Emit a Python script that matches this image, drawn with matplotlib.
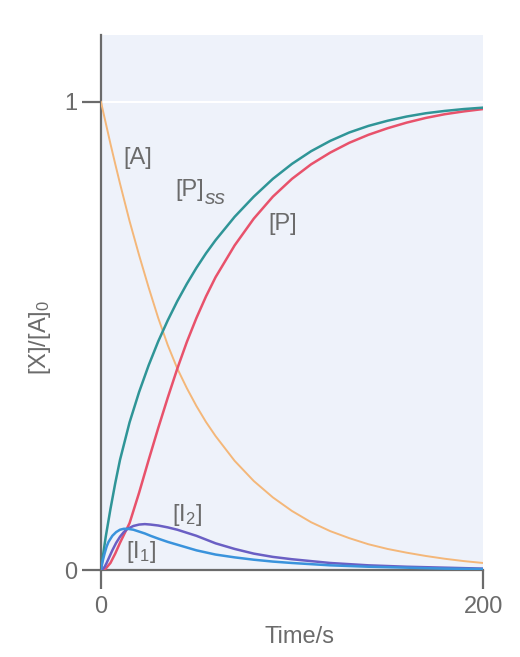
import numpy as np
import matplotlib
matplotlib.use("Agg")
import matplotlib.pyplot as plt

plt.rcParams['font.family'] = ['Liberation Sans', 'DejaVu Sans']
plt.rcParams['mathtext.fontset'] = 'custom'
plt.rcParams['mathtext.rm'] = 'Liberation Sans'
plt.rcParams['mathtext.it'] = 'Liberation Sans:italic'

# values
t = [0, 2.5, 5, 7.5, 10, 15, 20, 25, 30, 35, 40, 45, 50, 55, 60,
     70, 80, 90, 100, 110, 120, 130, 140, 150, 160, 170, 180, 190, 200]
A = [1.0, 0.955, 0.91, 0.867, 0.825, 0.745, 0.672, 0.603, 0.538, 0.48, 0.43, 0.388, 0.35, 0.316, 0.286,
     0.233, 0.19, 0.155, 0.126, 0.102, 0.083, 0.068, 0.055, 0.045, 0.037, 0.03, 0.024, 0.019, 0.015]
P_ss = [0.0, 0.07, 0.13, 0.185, 0.235, 0.315, 0.38, 0.437, 0.488, 0.533, 0.574, 0.611, 0.645, 0.676, 0.704,
        0.754, 0.797, 0.835, 0.867, 0.894, 0.916, 0.934, 0.948, 0.959, 0.968, 0.975, 0.98, 0.984, 0.987]
P = [0.0, 0.003, 0.015, 0.035, 0.058, 0.10, 0.165, 0.235, 0.303, 0.368, 0.43, 0.487, 0.538, 0.584, 0.625,
     0.693, 0.75, 0.797, 0.835, 0.866, 0.891, 0.912, 0.929, 0.943, 0.955, 0.965, 0.973, 0.979, 0.984]

t_i = [0, 1, 2, 3, 4, 6, 8, 10, 12, 14, 17, 20, 23, 26, 30, 35, 40, 50, 60,
       70, 80, 90, 100, 120, 140, 160, 180, 200]
I1 = [0.0, 0.02, 0.036, 0.05, 0.06, 0.073, 0.081, 0.086, 0.088, 0.088, 0.086, 0.082, 0.078, 0.073,
      0.067, 0.06, 0.054, 0.042, 0.033, 0.027, 0.022, 0.018, 0.015, 0.01, 0.007, 0.005, 0.003, 0.002]
I2 = [0.0, 0.002, 0.007, 0.015, 0.024, 0.042, 0.058, 0.071, 0.081, 0.088, 0.094, 0.097, 0.098, 0.097,
      0.095, 0.091, 0.086, 0.073, 0.057, 0.045, 0.035, 0.028, 0.023, 0.015, 0.01, 0.007, 0.005, 0.003]

grey = '#6b6b6b'
fs = 17

fig = plt.figure(figsize=(5.2, 6.57), dpi=100)
ax = fig.add_axes([0.194, 0.1324, 0.735, 0.815])
ax.set_facecolor('#eef2fa')

ax.axhline(1.0, color='white', lw=1.5, zorder=1)

style = dict(solid_joinstyle='round', solid_capstyle='round')
ax.plot(t, A, color='#f4b779', lw=1.4, zorder=3, **style)
ax.plot(t, P, color='#e8526b', lw=1.8, zorder=4, **style)
ax.plot(t, P_ss, color='#2f9597', lw=1.8, zorder=5, **style)
ax.plot(t_i, I2, color='#6a5fc4', lw=1.8, zorder=6, **style)
ax.plot(t_i, I1, color='#3a93dc', lw=1.8, zorder=7, **style)

ax.set_xlim(0, 200)
ax.set_ylim(0, 1.143)
ax.set_xticks([0, 200])
ax.set_yticks([0, 1])
ax.set_xticklabels(['0', '200'])
ax.set_yticklabels(['0', '1'])
ax.tick_params(direction='out', length=14, width=1.6, color=grey, labelcolor=grey,
               labelsize=fs)
ax.tick_params(axis='x', pad=5)
ax.tick_params(axis='y', pad=3)

for side in ['top', 'right']:
    ax.spines[side].set_visible(False)
for side in ['left', 'bottom']:
    ax.spines[side].set_color(grey)
    ax.spines[side].set_linewidth(1.6)

ax.set_xlabel('Time/s', color=grey, fontsize=fs)
ax.set_ylabel('[X]/[A]$_0$', color=grey, fontsize=fs)
ax.xaxis.set_label_coords(0.52, -0.105)
ax.yaxis.set_label_coords(-0.125, 0.435)

lab = dict(color=grey, fontsize=fs, va='center')
ax.text(19.5, 0.88, '[A]', ha='center', **lab)
ax.text(54, 0.812, '[P]', ha='right', **lab)
ax.text(54.5, 0.792, 'ss', ha='left', color=grey, fontsize=fs - 2, style='italic', va='center')
ax.text(95, 0.738, '[P]', ha='center', **lab)
ax.text(45, 0.118, '[I$_2$]', ha='center', **lab)
ax.text(21, 0.038, '[I$_1$]', ha='center', **lab)

fig.savefig('out.png', dpi=100)
